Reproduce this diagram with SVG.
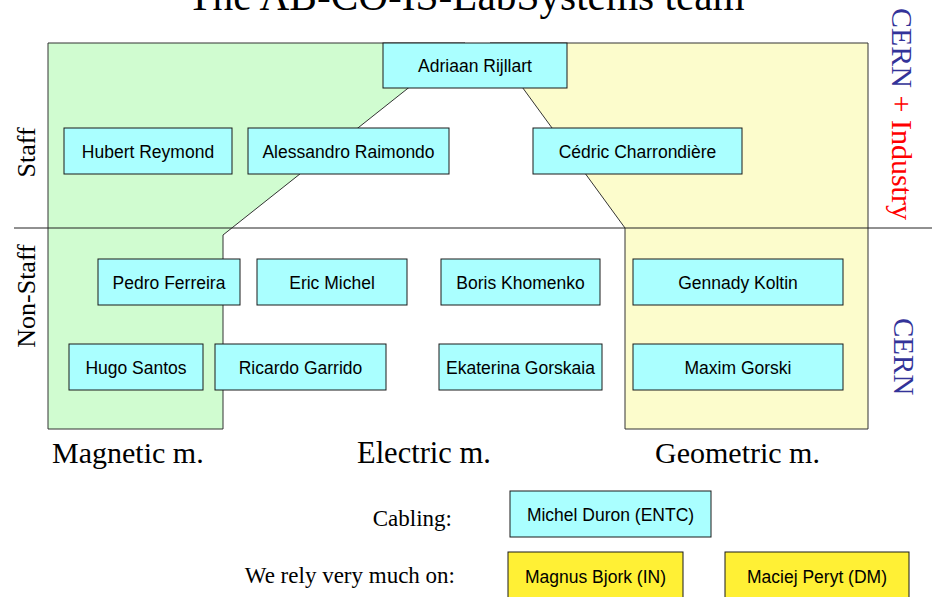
<svg xmlns="http://www.w3.org/2000/svg" width="932" height="597" viewBox="0 0 932 597">
<style>
.box{fill:#AAFFFF;stroke:#1a1a1a;stroke-width:1}
.ybox{fill:#FFF035;stroke:#1a1a1a;stroke-width:1}
.bt{font-family:"Liberation Sans",Arial,sans-serif;font-size:17.5px;fill:#000;text-anchor:middle}
.serif{font-family:"Liberation Serif","Times New Roman",serif;fill:#000}
.region{stroke:#333;stroke-width:1}
</style>
<rect width="932" height="597" fill="#fff"/>
<text class="serif" x="466" y="9.5" font-size="41.3" text-anchor="middle">The AB-CO-IS-LabSystems team</text>
<g id="regions">
<polygon id="magnetic-region" class="region" fill="#D0FCD0" points="48,43 465,43 223,235 223,429 48,429"/>
<polygon id="geometric-region" class="region" fill="#FCFCCC" points="490,43 868,43 868,429 625,429 625,228"/>
</g>
<g id="connectors">
<line x1="14" y1="228" x2="932" y2="228" stroke="#222" stroke-width="1"/>
</g>
<g id="side-labels">
<text class="serif" font-size="26" text-anchor="middle" transform="translate(35,152.5) rotate(-90)">Staff</text>
<text class="serif" font-size="26" text-anchor="middle" transform="translate(35,296) rotate(-90)">Non-Staff</text>
<text class="serif" font-size="30" transform="translate(892,8) rotate(90)"><tspan fill="#333399">CERN</tspan><tspan fill="#FF0000"> + Industry</tspan></text>
<text class="serif" font-size="29" style="fill:#333399" transform="translate(894,318) rotate(90)">CERN</text>
</g>
<g id="n-adriaan"><rect class="box" x="383" y="43" width="184" height="45"/><text class="bt" x="475" y="72">Adriaan Rijllart</text></g>
<g id="n-hubert"><rect class="box" x="64" y="128" width="168" height="46"/><text class="bt" x="148" y="158">Hubert Reymond</text></g>
<g id="n-alessandro"><rect class="box" x="248" y="128" width="201" height="46"/><text class="bt" x="348.5" y="158">Alessandro Raimondo</text></g>
<g id="n-cedric"><rect class="box" x="533" y="128" width="209" height="46"/><text class="bt" x="637.5" y="158">Cédric Charrondière</text></g>
<g id="n-pedro"><rect class="box" x="98" y="259" width="142" height="46"/><text class="bt" x="169" y="289">Pedro Ferreira</text></g>
<g id="n-eric"><rect class="box" x="257" y="259" width="150" height="46"/><text class="bt" x="332" y="289">Eric Michel</text></g>
<g id="n-boris"><rect class="box" x="441" y="259" width="159" height="46"/><text class="bt" x="520.5" y="289">Boris Khomenko</text></g>
<g id="n-gennady"><rect class="box" x="633" y="259" width="210" height="46"/><text class="bt" x="738" y="289">Gennady Koltin</text></g>
<g id="n-hugo"><rect class="box" x="69" y="344" width="134" height="46"/><text class="bt" x="136" y="374">Hugo Santos</text></g>
<g id="n-ricardo"><rect class="box" x="215" y="344" width="171" height="46"/><text class="bt" x="300.5" y="374">Ricardo Garrido</text></g>
<g id="n-ekaterina"><rect class="box" x="439" y="344" width="163" height="46"/><text class="bt" x="520.5" y="374">Ekaterina Gorskaia</text></g>
<g id="n-maxim"><rect class="box" x="633" y="344" width="210" height="46"/><text class="bt" x="738" y="374">Maxim Gorski</text></g>
<g id="group-labels">
<text class="serif" font-size="30" x="52" y="463">Magnetic m.</text>
<text class="serif" font-size="30.5" x="357" y="463">Electric m.</text>
<text class="serif" font-size="30" x="655" y="463">Geometric m.</text>
<text class="serif" font-size="23" x="452" y="526" text-anchor="end">Cabling:</text>
<text class="serif" font-size="23" x="455" y="583" text-anchor="end">We rely very much on:</text>
</g>
<g id="n-michel-duron"><rect class="box" x="510" y="491" width="201" height="46"/><text class="bt" x="610.5" y="521">Michel Duron (ENTC)</text></g>
<g id="n-magnus"><rect class="ybox" x="508" y="552" width="175" height="50"/><text class="bt" x="595.5" y="583">Magnus Bjork (IN)</text></g>
<g id="n-maciej"><rect class="ybox" x="725" y="552" width="184" height="50"/><text class="bt" x="817" y="583">Maciej Peryt (DM)</text></g>
</svg>
